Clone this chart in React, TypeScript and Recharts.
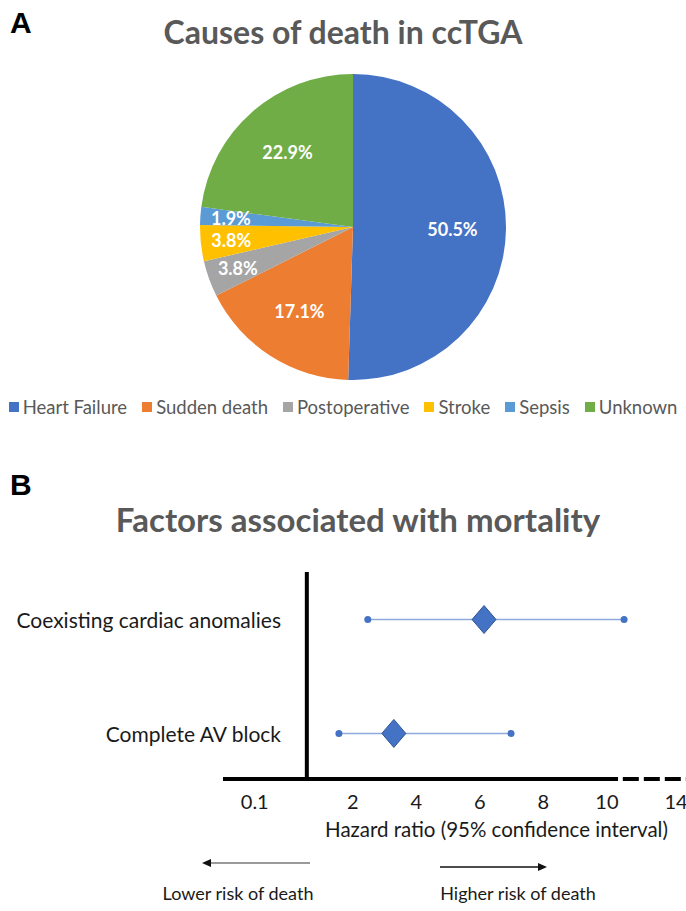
import React from 'react';
import {
  PieChart, Pie, Cell, Legend, ScatterChart, Scatter, XAxis, YAxis, ReferenceLine,
} from 'recharts';

// Panel A - causes of death (%)
const CAUSES = ['Heart Failure', 'Sudden death', 'Postoperative', 'Stroke', 'Sepsis', 'Unknown'];
const SHARES = [50.5, 17.1, 3.8, 3.8, 1.9, 22.9];
const CAUSE_COLORS = ['#4472C4', '#ED7D31', '#A5A5A5', '#FFC000', '#5B9BD5', '#70AD47'];

// Panel B - hazard ratios, plotted on the figure's own (broken) axis
const FACTORS = ['Complete AV block', 'Coexisting cardiac anomalies'];
const HR = [3.29, 6.13];
const CI_LOW = [1.56, 2.47];
const CI_HIGH = [6.98, 10.54];
const TICK_POS = [-1.09, 2, 4, 6, 8, 10, 12.4];
const TICK_LABELS = ['0.1', '2', '4', '6', '8', '10', '14'];
const NULL_LINE = 0.55;
const X_DOMAIN = [-2.09, 12.49];
const SOLID_END = 10.35;
const Y_DOMAIN = [0.6, 2.417];

const pieData = CAUSES.map((name, i) => ({ name, value: SHARES[i] }));
const hrData = FACTORS.map((name, i) => ({ x: HR[i], y: i + 1, name }));
const ciData = FACTORS.map((_, i) => [
  { x: CI_LOW[i], y: i + 1 },
  { x: CI_HIGH[i], y: i + 1 },
]);

const RAD = Math.PI / 180;
const TEXT_FONT = 'Lato, "Open Sans", sans-serif';

function renderPieLabel(p: any) {
  const frac = p.value < 5 ? 0.8 : 0.65;
  const r = p.outerRadius * frac;
  const x = p.cx + r * Math.cos(-p.midAngle * RAD);
  const y = p.cy + r * Math.sin(-p.midAngle * RAD);
  return (
    <text x={x} y={y} fill="#fff" textAnchor="middle" dominantBaseline="central"
      fontFamily={TEXT_FONT} fontWeight={700} fontSize={18}>
      {`${p.value}%`}
    </text>
  );
}

function LegendRow({ payload }: any) {
  const items = [...(payload || [])].sort((a: any, b: any) => CAUSES.indexOf(a.value) - CAUSES.indexOf(b.value));
  return (
    <div style={{ display: 'flex', justifyContent: 'center', gap: 15, fontFamily: TEXT_FONT, fontSize: 18.5, color: '#595959' }}>
      {items.map((item: any) => (
        <div key={item.value} style={{ display: 'flex', alignItems: 'center' }}>
          <span style={{ width: 10, height: 10, background: item.color, marginRight: 4, display: 'inline-block' }} />
          <span>{item.value}</span>
        </div>
      ))}
    </div>
  );
}

function FactorTick(props: any) {
  const { y, payload } = props;
  return (
    <text x={281} y={y} textAnchor="end" dominantBaseline="central" fontFamily={TEXT_FONT} fontSize={21} fill="#1a1a1a">
      {FACTORS[payload.value - 1]}
    </text>
  );
}

function Diamond(props: any) {
  const { cx, cy } = props;
  const w = 12;
  const h = 14;
  return (
    <polygon points={`${cx},${cy - h} ${cx + w},${cy} ${cx},${cy + h} ${cx - w},${cy}`}
      fill="#4472C4" stroke="#2F5597" strokeWidth={1} />
  );
}

function EndDot(props: any) {
  return <circle cx={props.cx} cy={props.cy} r={3.5} fill="#4472C4" />;
}

export default function App() {
  return (
    <div style={{ position: 'absolute', left: 0, top: 0, width: 686, height: 911, background: '#fff', overflow: 'hidden' }}>
      <div style={{ position: 'absolute', left: 10, top: 6, fontFamily: '"Liberation Sans", Arial, sans-serif', fontWeight: 700, fontSize: 30 }}>A</div>
      <div style={{ position: 'absolute', left: 0, top: 12, width: 686, textAlign: 'center', fontFamily: TEXT_FONT, fontWeight: 700, fontSize: 32, color: '#595959' }}>
        Causes of death in ccTGA
      </div>

      <div style={{ position: 'absolute', left: 0, top: 0 }}>
        <PieChart width={686} height={440}>
          <Pie data={pieData} dataKey="value" nameKey="name" cx={348} cy={222} outerRadius={153}
            startAngle={90} endAngle={-270} stroke="none" label={renderPieLabel} labelLine={false}
            isAnimationActive={false}>
            {pieData.map((d, i) => <Cell key={d.name} fill={CAUSE_COLORS[i]} />)}
          </Pie>
          <Legend content={<LegendRow />} wrapperStyle={{ top: 396, left: 0, width: 686 }} />
        </PieChart>
      </div>

      <div style={{ position: 'absolute', left: 10, top: 468, fontFamily: '"Liberation Sans", Arial, sans-serif', fontWeight: 700, fontSize: 30 }}>B</div>
      <div style={{ position: 'absolute', left: 0, top: 499, width: 686, paddingLeft: 30, boxSizing: 'border-box', textAlign: 'center', fontFamily: TEXT_FONT, fontWeight: 700, fontSize: 33, color: '#595959' }}>
        Factors associated with mortality
      </div>

      <div style={{ position: 'absolute', left: 0, top: 557 }}>
        <ScatterChart width={686} height={300} margin={{ top: 15, right: 0, bottom: 0, left: 0 }}>
          <XAxis type="number" dataKey="x" domain={X_DOMAIN} ticks={TICK_POS} allowDataOverflow
            axisLine={false} tickLine={false} tickMargin={10} height={78}
            tickFormatter={(v: number) => TICK_LABELS[TICK_POS.indexOf(v)] ?? ''}
            tick={{ fontFamily: TEXT_FONT, fontSize: 20, fill: '#1a1a1a' }}
            label={{ value: 'Hazard ratio (95% confidence interval)', position: 'insideBottom', offset: 20, dx: 42, fontFamily: TEXT_FONT, fontSize: 20.5, fill: '#1a1a1a' }} />
          <YAxis type="number" dataKey="y" domain={Y_DOMAIN} ticks={[1, 2]} allowDataOverflow width={223}
            axisLine={false} tickLine={false} tick={<FactorTick />} />
          <ReferenceLine x={NULL_LINE} stroke="#000" strokeWidth={4} />
          <ReferenceLine segment={[{ x: X_DOMAIN[0], y: Y_DOMAIN[0] }, { x: SOLID_END, y: Y_DOMAIN[0] }]} stroke="#000" strokeWidth={4} ifOverflow="visible" />
          <ReferenceLine segment={[{ x: SOLID_END + 0.15, y: Y_DOMAIN[0] }, { x: X_DOMAIN[1], y: Y_DOMAIN[0] }]} stroke="#000" strokeWidth={4} strokeDasharray="16 5" ifOverflow="visible" />
          {ciData.map((pts, i) => (
            <Scatter key={i} data={pts} line={{ stroke: '#8FAADC', strokeWidth: 1.5 }} shape={<EndDot />} isAnimationActive={false} />
          ))}
          <Scatter data={hrData} shape={<Diamond />} isAnimationActive={false} />
        </ScatterChart>
      </div>

      <svg style={{ position: 'absolute', left: 0, top: 840 }} width={686} height={71}>
        <line x1={210} y1={23} x2={310} y2={23} stroke="#9a9a9a" strokeWidth={2} />
        <polygon points="202,23 211,19 211,27" fill="#111" />
        <line x1={440} y1={27} x2={539} y2={27} stroke="#111" strokeWidth={1.5} />
        <polygon points="547,27 538,23 538,31" fill="#111" />
        <text x={238} y={60} textAnchor="middle" fontFamily={TEXT_FONT} fontSize={18} fill="#1a1a1a">Lower risk of death</text>
        <text x={518} y={60} textAnchor="middle" fontFamily={TEXT_FONT} fontSize={18} fill="#1a1a1a">Higher risk of death</text>
      </svg>
    </div>
  );
}
